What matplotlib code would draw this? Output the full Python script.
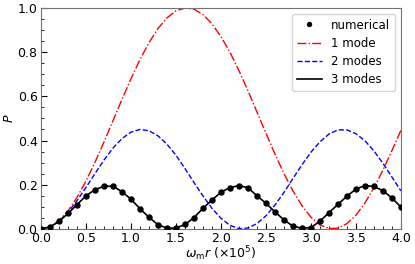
import numpy as np
import matplotlib
matplotlib.use("Agg")
import matplotlib.pyplot as plt
from matplotlib.ticker import MultipleLocator

# omega_m r in units of 1e5
x_vals = [0.0, 0.1, 0.2, 0.3, 0.4, 0.5, 0.6, 0.7, 0.8, 0.9,
          1.0, 1.1, 1.2, 1.3, 1.4, 1.5, 1.6, 1.7, 1.8, 1.9,
          2.0, 2.1, 2.2, 2.3, 2.4, 2.5, 2.6, 2.7, 2.8, 2.9,
          3.0, 3.1, 3.2, 3.3, 3.4, 3.5, 3.6, 3.7, 3.8, 3.9, 4.0]

# numerical result (dots), also followed by the 3-mode curve
p_numerical = [0.000, 0.009, 0.034, 0.070, 0.110, 0.150, 0.178, 0.193, 0.193, 0.168,
               0.134, 0.091, 0.052, 0.019, 0.003, 0.004, 0.020, 0.051, 0.093, 0.131,
               0.166, 0.187, 0.196, 0.186, 0.150, 0.116, 0.077, 0.041, 0.012, 0.003,
               0.006, 0.035, 0.073, 0.111, 0.148, 0.180, 0.196, 0.192, 0.173, 0.140, 0.099]
p_3modes = p_numerical

p_1mode = [0.000, 0.009, 0.037, 0.082, 0.143, 0.217, 0.302, 0.394, 0.490, 0.587,
           0.680, 0.767, 0.843, 0.907, 0.955, 0.987, 0.999, 0.994, 0.970, 0.928,
           0.870, 0.799, 0.716, 0.625, 0.529, 0.433, 0.339, 0.250, 0.172, 0.105,
           0.053, 0.018, 0.002, 0.003, 0.024, 0.062, 0.117, 0.186, 0.266, 0.354, 0.446]

p_2modes = [0.000, 0.009, 0.035, 0.075, 0.128, 0.188, 0.251, 0.312, 0.366, 0.409,
            0.438, 0.450, 0.444, 0.421, 0.383, 0.333, 0.273, 0.210, 0.149, 0.093,
            0.048, 0.016, 0.001, 0.004, 0.024, 0.059, 0.108, 0.165, 0.228, 0.290,
            0.347, 0.394, 0.429, 0.448, 0.448, 0.431, 0.399, 0.353, 0.297, 0.235, 0.172]

fig = plt.figure(figsize=(4.15, 2.64), dpi=100)
ax = fig.add_axes([0.099, 0.133, 0.867, 0.837])

ax.plot(x_vals, p_numerical, 'o', color='black', markersize=3.6, label='numerical', zorder=4)
ax.plot(x_vals, p_1mode, '-.', color='red', linewidth=1.0, label='1 mode')
ax.plot(x_vals, p_2modes, '--', color='blue', linewidth=1.0, label='2 modes')
ax.plot(x_vals, p_3modes, '-', color='black', linewidth=1.2, label='3 modes')

ax.set_xlim(0, 4.0)
ax.set_ylim(0, 1.0)
ax.xaxis.set_major_locator(MultipleLocator(0.5))
ax.xaxis.set_minor_locator(MultipleLocator(0.1))
ax.yaxis.set_major_locator(MultipleLocator(0.2))
ax.yaxis.set_minor_locator(MultipleLocator(0.05))
ax.tick_params(which='both', direction='in', labelsize=9, top=False, right=False, pad=2.5)
ax.tick_params(axis='x', pad=2)
ax.tick_params(which='major', length=4)
ax.tick_params(which='minor', length=2.5)
for s in ax.spines.values():
    s.set_color('0.45')

ax.set_xlabel(r'$\omega_{\mathrm{m}}r$ ($\times10^5$)', fontsize=9, labelpad=0)
ax.set_ylabel(r'$P$', fontsize=9, labelpad=1)

ax.legend(loc='upper right', fontsize=8.5, handlelength=2.1, handletextpad=0.8,
          borderaxespad=0.5, labelspacing=0.45, borderpad=0.4, markerscale=0.8)

fig.savefig('out.png', dpi=100)
